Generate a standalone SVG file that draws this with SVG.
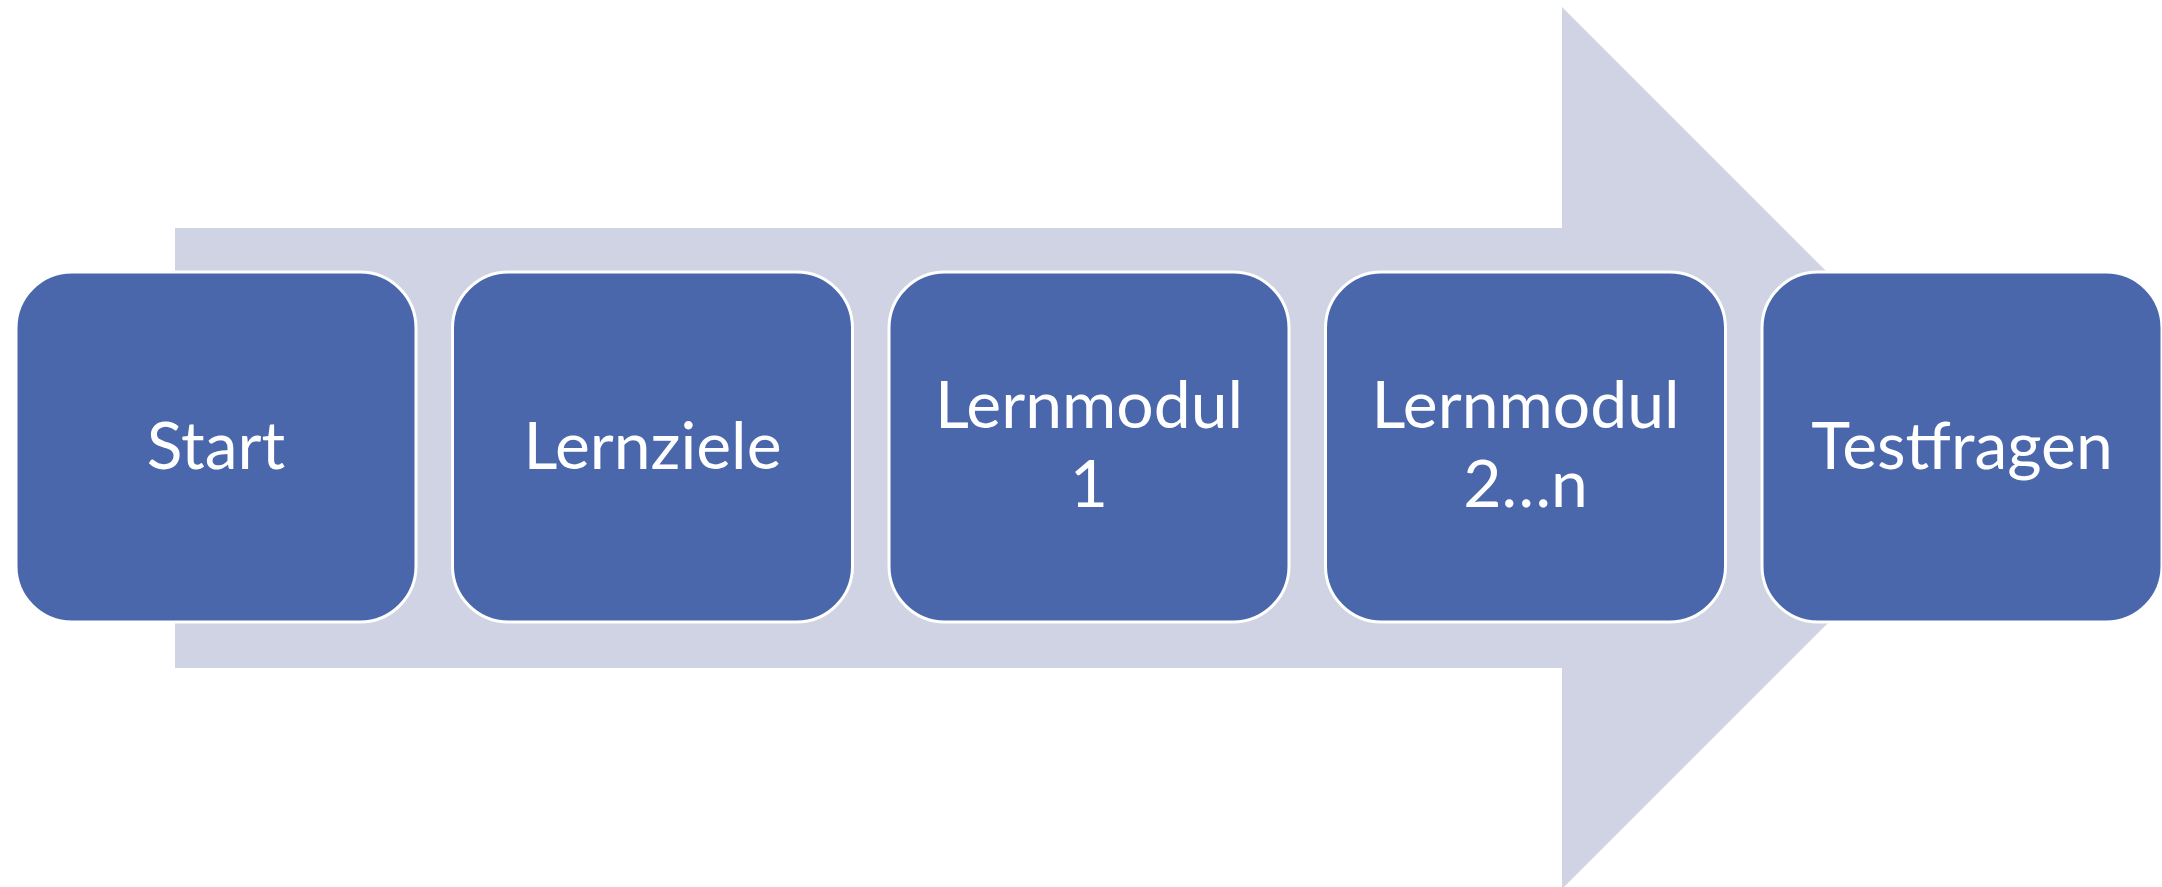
<svg xmlns="http://www.w3.org/2000/svg" width="2162" height="887" viewBox="0 0 2162 887">
<style>
.bg{fill:#CFD3E4}
.node{fill:#4A67AC;stroke:#FFFFFF;stroke-width:3}
.lbl{fill:#FFFFFF;font-family:Lato,"Open Sans","Liberation Sans",sans-serif;font-size:66px;text-anchor:middle}
</style>
<rect width="2162" height="887" fill="#FFFFFF"/>
<g id="arrow">
<path class="bg" d="M175,228 H1562 V7 L2003,448 L1562,889 V668 H175 Z"/>
</g>
<g id="connectors"></g>
<g id="node-start">
<rect class="node" x="16" y="272" width="400" height="350" rx="56" ry="56"/>
<text class="lbl" x="216" y="469">Start</text>
</g>
<g id="node-lernziele">
<rect class="node" x="452.5" y="272" width="400" height="350" rx="56" ry="56"/>
<text class="lbl" x="652.5" y="469">Lernziele</text>
</g>
<g id="node-lernmodul1">
<rect class="node" x="889" y="272" width="400" height="350" rx="56" ry="56"/>
<text class="lbl" x="1089" y="428">Lernmodul</text>
<text class="lbl" x="1089" y="507">1</text>
</g>
<g id="node-lernmodul2n">
<rect class="node" x="1325.5" y="272" width="400" height="350" rx="56" ry="56"/>
<text class="lbl" x="1525.5" y="428">Lernmodul</text>
<text class="lbl" x="1525.5" y="507">2…n</text>
</g>
<g id="node-testfragen">
<rect class="node" x="1762" y="272" width="400" height="350" rx="56" ry="56"/>
<text class="lbl" x="1962" y="469">Testfragen</text>
</g>
</svg>
